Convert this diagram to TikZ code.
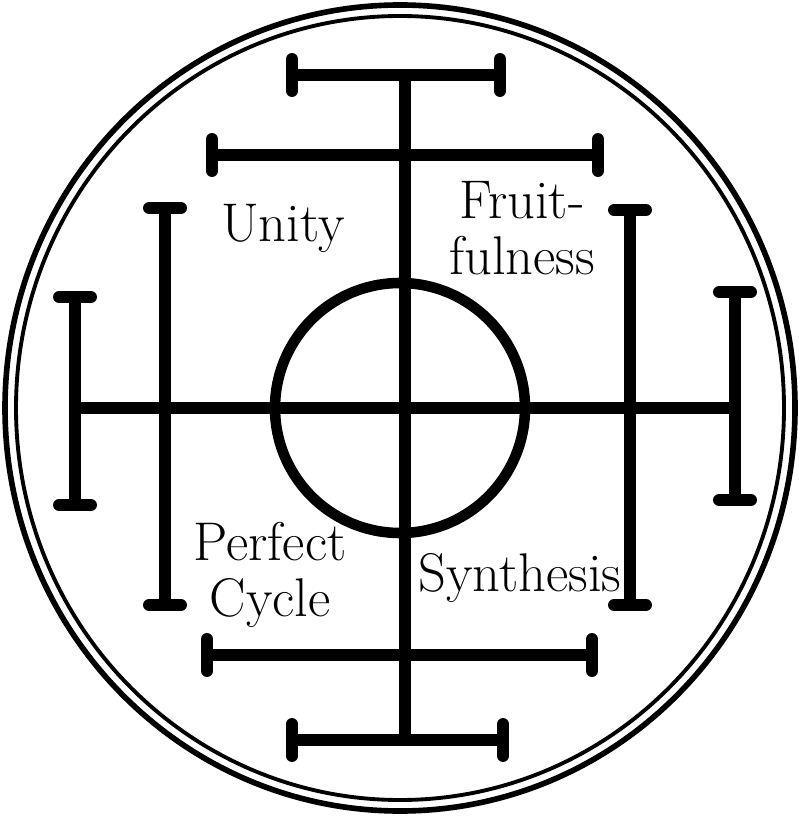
\documentclass[tikz,border=0pt]{standalone}
\usepackage{tikz}
\tikzset{
  bar/.style={line width=3.4pt},
  boneend/.style={line width=3.4pt,line cap=round},
  word/.style={font=\fontsize{15.5}{16}\selectfont,align=center}
}
% horizontal bone: y, x1, x2
\newcommand{\hbone}[3]{\draw[bar] (#2,#1) -- (#3,#1);
  \draw[boneend] (#2,#1-16) -- (#2,#1+16); \draw[boneend] (#3,#1-16) -- (#3,#1+16);}
% vertical bone: x, y1, y2
\newcommand{\vbone}[3]{\draw[bar] (#1,#2) -- (#1,#3);
  \draw[boneend] (#1-16,#2) -- (#1+16,#2); \draw[boneend] (#1-16,#3) -- (#1+16,#3);}

\begin{document}
\begin{tikzpicture}[x=0.01cm,y=-0.01cm]
    \useasboundingbox (0,0) rectangle (800,816);
    \coordinate (o) at (400,408);
    \draw[line width=1.6pt] (o) ellipse [x radius=395, y radius=403];
    \draw[line width=1.1pt] (o) ellipse [x radius=384, y radius=392];
    \draw[line width=3pt] (o) circle [radius=125];
    \draw[bar] (405,75) -- (405,740);
    \draw[bar] (75,408) -- (735,408);
    \hbone{75}{292}{500} \hbone{155}{212}{598}
    \hbone{655}{207}{592} \hbone{740}{292}{503}
    \vbone{75}{297}{505} \vbone{165}{208}{605}
    \vbone{735}{292}{500} \vbone{630}{210}{605}
    \node[word] (unity) at (283,228) {Unity};
    \node[word] (fruit) at (522,228) {Fruit-\\fulness};
    \node[word] (cycle) at (270,575) {Perfect\\Cycle};
    \node[word] (synth) at (520,578) {Synthesis};
\end{tikzpicture}
\end{document}
